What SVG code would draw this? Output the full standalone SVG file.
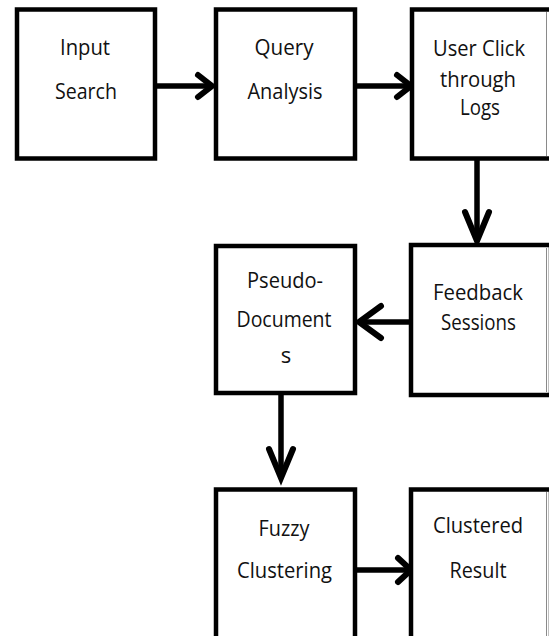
<svg xmlns="http://www.w3.org/2000/svg" width="549" height="636" viewBox="0 0 549 636">
<style>
  .box{fill:#fff;stroke:#000;stroke-width:4.5}
  .edge{fill:none;stroke:#8a8a8a;stroke-width:1}
  .lbl{font-family:"Open Sans","Liberation Sans",Arial,sans-serif;font-size:22px;fill:#111;text-anchor:middle}
  .ln{fill:none;stroke:#000;stroke-width:5.5}
  .hd{fill:none;stroke:#000;stroke-width:6;stroke-linecap:round;stroke-linejoin:miter}
</style>
<rect width="549" height="636" fill="#fff"/>
<g id="connectors">
  <line class="ln" x1="157" y1="86" x2="210" y2="86"/>
  <polyline class="hd" points="198,75 212,86 198,97"/>
  <line class="ln" x1="357" y1="86" x2="409" y2="86"/>
  <polyline class="hd" points="397,75 411,86 397,97"/>
  <line class="ln" x1="477" y1="160" x2="477" y2="240"/>
  <polyline class="hd" points="465,212 477,241 489,212"/>
  <line class="ln" x1="409" y1="322" x2="360" y2="322"/>
  <polyline class="hd" points="381,306 359,322 381,338"/>
  <line class="ln" x1="281" y1="395" x2="281" y2="477"/>
  <polyline class="hd" points="269,449 281,478 293,449"/>
  <line class="ln" x1="357" y1="570" x2="409" y2="570"/>
  <polyline class="hd" points="398,558 411,570 398,582"/>
</g>
<g id="input-search">
  <rect class="box" x="17" y="9.5" width="138" height="149"/>
  <text class="lbl" x="85" y="55" textLength="50" lengthAdjust="spacingAndGlyphs">Input</text>
  <text class="lbl" x="86" y="99" textLength="62" lengthAdjust="spacingAndGlyphs">Search</text>
</g>
<g id="query-analysis">
  <rect class="box" x="216" y="9.5" width="139" height="149"/>
  <text class="lbl" x="284" y="55" textLength="59" lengthAdjust="spacingAndGlyphs">Query</text>
  <text class="lbl" x="285" y="99" textLength="75" lengthAdjust="spacingAndGlyphs">Analysis</text>
</g>
<g id="user-click-logs">
  <rect class="box" x="412" y="9.5" width="140" height="149"/>
  <line class="edge" x1="546.5" y1="12" x2="546.5" y2="156"/>
  <text class="lbl" x="479" y="56" textLength="92" lengthAdjust="spacingAndGlyphs">User Click</text>
  <text class="lbl" x="478" y="87" textLength="76" lengthAdjust="spacingAndGlyphs">through</text>
  <text class="lbl" x="480" y="115" textLength="40" lengthAdjust="spacingAndGlyphs">Logs</text>
</g>
<g id="feedback-sessions">
  <rect class="box" x="411" y="245" width="140" height="150"/>
  <line class="edge" x1="546.5" y1="248" x2="546.5" y2="392"/>
  <text class="lbl" x="478" y="300" textLength="90" lengthAdjust="spacingAndGlyphs">Feedback</text>
  <text class="lbl" x="478.5" y="330" textLength="75" lengthAdjust="spacingAndGlyphs">Sessions</text>
</g>
<g id="pseudo-documents">
  <rect class="box" x="216" y="246" width="139" height="147"/>
  <text class="lbl" x="285" y="288" textLength="76" lengthAdjust="spacingAndGlyphs">Pseudo-</text>
  <text class="lbl" x="284" y="327" textLength="95" lengthAdjust="spacingAndGlyphs">Document</text>
  <text class="lbl" x="286" y="363">s</text>
</g>
<g id="fuzzy-clustering">
  <rect class="box" x="216" y="489.5" width="139" height="160"/>
  <text class="lbl" x="284" y="536" textLength="51" lengthAdjust="spacingAndGlyphs">Fuzzy</text>
  <text class="lbl" x="284.5" y="578" textLength="95" lengthAdjust="spacingAndGlyphs">Clustering</text>
</g>
<g id="clustered-result">
  <rect class="box" x="411" y="489.5" width="140" height="160"/>
  <line class="edge" x1="546.5" y1="492" x2="546.5" y2="636"/>
  <text class="lbl" x="478" y="533" textLength="90" lengthAdjust="spacingAndGlyphs">Clustered</text>
  <text class="lbl" x="478" y="578" textLength="57" lengthAdjust="spacingAndGlyphs">Result</text>
</g>
</svg>
